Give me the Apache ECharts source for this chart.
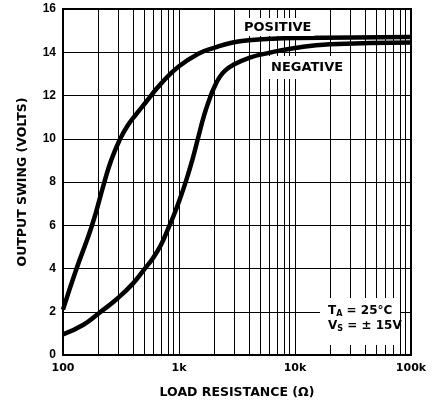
<!DOCTYPE html>
<html>
<head>
<meta charset="utf-8">
<script src="https://cdn.jsdelivr.net/npm/echarts@6/dist/echarts.min.js"></script>
<style>
html, body { margin: 0; padding: 0; background: #fff; }
#chart { width: 438px; height: 404px; }
</style>
</head>
<body>
<div id="chart"></div>
<script>
// values
const posLoad = [100, 130, 178, 226, 260, 305, 360, 430, 520, 700, 1000, 1500, 2000, 2900, 4000, 6000, 10000, 100000];
const posSwing = [2.1, 3.95, 6.0, 7.95, 9.0, 9.9, 10.6, 11.15, 11.7, 12.55, 13.35, 13.95, 14.2, 14.45, 14.55, 14.62, 14.66, 14.7];
const negLoad = [100, 150, 200, 300, 400, 500, 600, 700, 800, 900, 1000, 1150, 1300, 1455, 1650, 1850, 2000, 2240, 2500, 2900, 4080, 5700, 10000, 20000, 100000];
const negSwing = [0.95, 1.4, 1.9, 2.65, 3.3, 3.95, 4.5, 5.1, 5.8, 6.45, 7.1, 8.05, 9.0, 10.0, 11.1, 11.9, 12.35, 12.85, 13.15, 13.4, 13.75, 13.95, 14.2, 14.37, 14.45];

const xTickValues = [100, 1000, 10000, 100000];
const xTickLabels = ['100', '1k', '10k', '100k'];
// log paper minor lines (2..9 of each decade)
const xMinorLines = [200, 300, 400, 500, 600, 700, 800, 900,
  2000, 3000, 4000, 5000, 6000, 7000, 8000, 9000,
  20000, 30000, 40000, 50000, 60000, 70000, 80000, 90000];

const pair = (xs, ys) => xs.map((x, i) => [x, ys[i]])

const chart = echarts.init(document.getElementById('chart'))

const option = {
  animation: false,
  backgroundColor: '#fff',
  grid: {
    left: 63, top: 9, right: 27, bottom: 49,
    show: true, borderColor: '#000', borderWidth: 2
  },
  xAxis: {
    type: 'log',
    logBase: 10,
    min: 100,
    max: 100000,
    name: 'LOAD RESISTANCE (\u03A9)',
    nameLocation: 'middle',
    nameGap: 31,
    nameTextStyle: { fontFamily: 'DejaVu Sans', fontWeight: 'bold', fontSize: 12.5, color: '#000' },
    axisLine: { lineStyle: { color: '#000', width: 2 } },
    axisTick: { show: false },
    axisLabel: {
      margin: 8,
      fontFamily: 'DejaVu Sans', fontWeight: 'bold', fontSize: 11, color: '#000',
      formatter: (v) => {
        const i = xTickValues.findIndex(t => Math.abs(Math.log10(t) - Math.log10(v)) < 1e-6)
        return i >= 0 ? xTickLabels[i] : ''
      }
    },
    splitLine: { show: true, lineStyle: { color: '#000', width: 1 } }
  },
  yAxis: {
    type: 'value',
    min: 0,
    max: 16,
    interval: 2,
    name: 'OUTPUT SWING (VOLTS)',
    nameLocation: 'middle',
    nameGap: 34,
    nameTextStyle: { fontFamily: 'DejaVu Sans', fontWeight: 'bold', fontSize: 12.5, color: '#000' },
    axisLine: { show: true, lineStyle: { color: '#000', width: 2 } },
    axisTick: { show: false },
    axisLabel: { margin: 7, fontFamily: 'Liberation Sans', fontWeight: 'bold', fontSize: 12, color: '#000' },
    splitLine: { show: true, lineStyle: { color: '#000', width: 1 } }
  },
  series: [
    {
      name: 'grid',
      type: 'line',
      data: [],
      z: 1,
      silent: true,
      markLine: {
        silent: true,
        symbol: 'none',
        label: { show: false },
        lineStyle: { color: '#000', width: 1, type: 'solid' },
        data: xMinorLines.map(v => ({ xAxis: v }))
      }
    },
    {
      name: 'POSITIVE',
      type: 'line',
      data: pair(posLoad, posSwing),
      smooth: 0.5,
      showSymbol: false,
      z: 10,
      lineStyle: { color: '#000', width: 4.5 }
    },
    {
      name: 'NEGATIVE',
      type: 'line',
      data: pair(negLoad, negSwing),
      smooth: 0.5,
      showSymbol: false,
      z: 10,
      lineStyle: { color: '#000', width: 4.5 }
    }
  ],
  graphic: [
    {
      type: 'text', left: 241, top: 18, z: 50,
      style: {
        text: 'POSITIVE', font: 'bold 13px "DejaVu Sans"', fill: '#000',
        backgroundColor: '#fff', padding: [3, 3, 2, 3]
      }
    },
    {
      type: 'text', left: 268, top: 56, z: 50,
      style: {
        text: 'NEGATIVE', font: 'bold 13px "DejaVu Sans"', fill: '#000',
        backgroundColor: '#fff', padding: [5, 3, 5, 3]
      }
    },
    {
      type: 'rect', left: 320, top: 298, z: 50,
      shape: { width: 80, height: 47 },
      style: { fill: '#fff' }
    },
    {
      type: 'text', left: 328, top: 303, z: 51,
      style: {
        text: '{m|T}{s|A}{m| = 25°C}\n{m|V}{s|S}{m| = \u00B1 15V}',
        fill: '#000',
        rich: {
          m: { fontFamily: 'DejaVu Sans', fontWeight: 'bold', fontSize: 12, lineHeight: 15 },
          s: { fontFamily: 'DejaVu Sans', fontWeight: 'bold', fontSize: 8, padding: [7, 0, 0, 0], lineHeight: 15 }
        }
      }
    }
  ]
}

option && chart.setOption(option)
</script>
</body>
</html>
